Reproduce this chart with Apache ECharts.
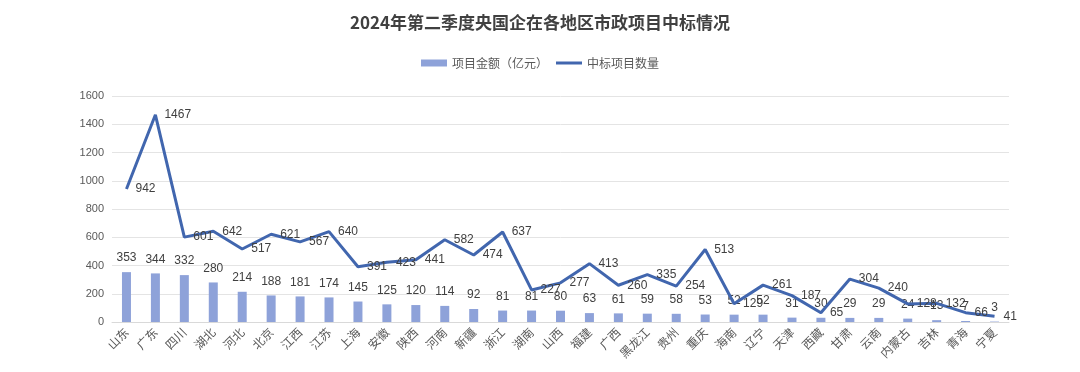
<!DOCTYPE html>
<html>
<head>
<meta charset="utf-8">
<script src="https://cdn.jsdelivr.net/npm/echarts@6/dist/echarts.min.js"></script>
<style>html,body{margin:0;padding:0;background:#fff;}#c{width:1080px;height:372px;}</style>
</head>
<body>
<div id="c"></div>
<script>
const categories = ['山东','广东','四川','湖北','河北','北京','江西','江苏','上海','安徽','陕西','河南','新疆','浙江','湖南','山西','福建','广西','黑龙江','贵州','重庆','海南','辽宁','天津','西藏','甘肃','云南','内蒙古','吉林','青海','宁夏'];
const amountValues = [353,344,332,280,214,188,181,174,145,125,120,114,92,81,81,80,63,61,59,58,53,52,52,31,30,29,29,24,13,7,3];
const countValues = [942,1467,601,642,517,621,567,640,391,423,441,582,474,637,227,277,413,260,335,254,513,129,261,187,65,304,240,128,132,66,41];
const yTicks = {min:0, max:1600, interval:200};

const chart = echarts.init(document.getElementById('c'));
chart.setOption({
  animation:false,
  backgroundColor:'#fff',
  title:{text:'2024年第二季度央国企在各地区市政项目中标情况',left:'center',top:9,
    textStyle:{fontSize:17,fontWeight:'bold',color:'#404040',fontFamily:'Noto Sans CJK SC'}},
  legend:{top:52,left:'center',itemWidth:26,itemHeight:7,itemGap:8,
    textStyle:{color:'#595959',fontSize:12,fontFamily:'Noto Sans CJK SC'},
    data:[{name:'项目金额（亿元）',icon:'rect'},{name:'中标项目数量',icon:'path://M0,0L26,0L26,3L0,3Z'}]},
  grid:{left:112,right:71,top:96,bottom:50,containLabel:false},
  xAxis:{type:'category',data:categories,
    axisTick:{show:false},
    axisLine:{lineStyle:{color:'#d9d9d9'}},
    axisLabel:{rotate:45,interval:0,color:'#595959',fontSize:12,margin:8,fontFamily:'Noto Sans CJK SC'}},
  yAxis:{type:'value',min:yTicks.min,max:yTicks.max,interval:yTicks.interval,
    axisLabel:{color:'#595959',fontSize:11,margin:8,formatter:function(v){return String(v);}},
    axisLine:{show:false},axisTick:{show:false},
    splitLine:{lineStyle:{color:'#e4e4e4'}}},
  series:[
    {name:'项目金额（亿元）',type:'bar',data:amountValues,barWidth:9,
      itemStyle:{color:'#8EA2D9'},
      label:{show:true,position:'top',distance:8,color:'#404040',fontSize:12}},
    {name:'中标项目数量',type:'line',data:countValues,symbol:'circle',symbolSize:0,showSymbol:true,
      lineStyle:{color:'#4166AE',width:3},itemStyle:{color:'#4166AE'},
      label:{show:true,position:'right',distance:9,color:'#404040',fontSize:12}}
  ]
});
</script>
</body>
</html>
